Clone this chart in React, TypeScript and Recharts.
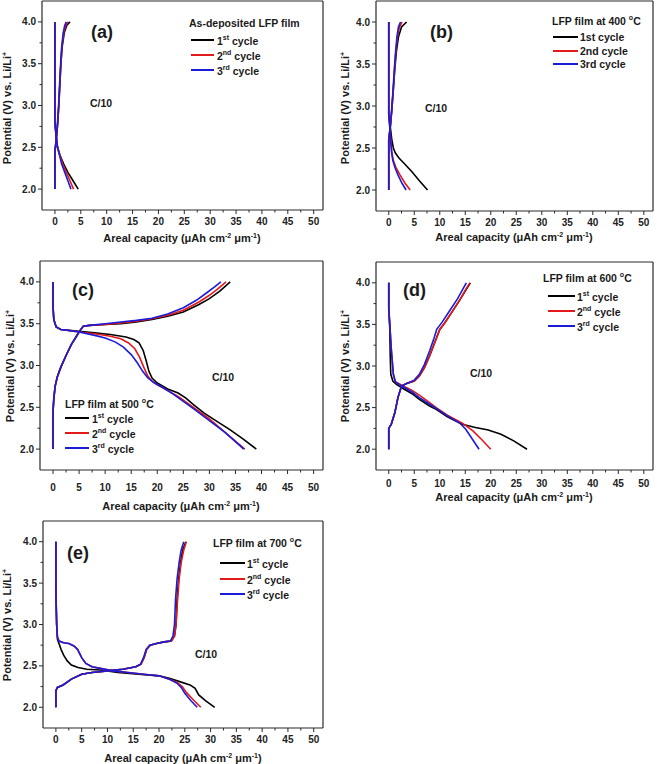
import { Line, LineChart, XAxis, YAxis } from "recharts";

type Pair = [number, number];

// x ticks every 2.5 (labels on multiples of 5), y ticks every 0.25 (labels every 0.5)
const xTicks = [0, 2.5, 5, 7.5, 10, 12.5, 15, 17.5, 20, 22.5, 25, 27.5, 30, 32.5, 35, 37.5, 40, 42.5, 45, 47.5, 50];
const yTicks = [2.0, 2.25, 2.5, 2.75, 3.0, 3.25, 3.5, 3.75, 4.0];
const cycleNames = ["1st", "2nd", "3rd"];
const cycleSups = ["st", "nd", "rd"];

// (a) as-deposited
const aChg1: Pair[] = [[0, 2.0], [0, 2.45], [0.3, 2.62], [0.55, 2.8], [0.75, 3.0], [0.95, 3.25], [1.15, 3.5], [1.4, 3.7], [1.8, 3.87], [2.3, 3.96], [2.9, 4.0]];
const aChg2: Pair[] = [[0, 2.0], [0, 2.45], [0.3, 2.62], [0.55, 2.8], [0.75, 3.0], [0.95, 3.25], [1.15, 3.5], [1.35, 3.7], [1.7, 3.87], [2.1, 3.96], [2.5, 4.0]];
const aChg3: Pair[] = [[0, 2.0], [0, 2.45], [0.28, 2.62], [0.5, 2.8], [0.7, 3.0], [0.9, 3.25], [1.1, 3.5], [1.3, 3.7], [1.6, 3.87], [1.9, 3.96], [2.2, 4.0]];
const aDis1: Pair[] = [[0, 4.0], [0, 2.8], [0.2, 2.65], [0.5, 2.5], [1.0, 2.4], [1.7, 2.3], [2.5, 2.2], [3.5, 2.1], [4.5, 2.0]];
const aDis2: Pair[] = [[0, 4.0], [0, 2.8], [0.2, 2.65], [0.5, 2.5], [1.0, 2.4], [1.5, 2.3], [2.2, 2.2], [2.9, 2.1], [3.6, 2.0]];
const aDis3: Pair[] = [[0, 4.0], [0, 2.8], [0.2, 2.65], [0.5, 2.5], [0.9, 2.4], [1.3, 2.3], [1.9, 2.2], [2.5, 2.1], [3.1, 2.0]];

// (b) 400 C
const bChg1: Pair[] = [[0, 2.0], [0, 2.6], [0.3, 2.75], [0.6, 2.95], [0.9, 3.2], [1.2, 3.45], [1.5, 3.65], [1.9, 3.82], [2.5, 3.94], [3.5, 4.0]];
const bChg2: Pair[] = [[0, 2.0], [0, 2.6], [0.3, 2.75], [0.6, 2.95], [0.9, 3.2], [1.15, 3.45], [1.4, 3.65], [1.7, 3.82], [2.1, 3.94], [2.6, 4.0]];
const bChg3: Pair[] = [[0, 2.0], [0, 2.6], [0.3, 2.75], [0.55, 2.95], [0.85, 3.2], [1.1, 3.45], [1.35, 3.65], [1.6, 3.82], [1.9, 3.94], [2.3, 4.0]];
const bDis1: Pair[] = [[0, 4.0], [0, 2.9], [0.3, 2.75], [0.6, 2.6], [0.9, 2.5], [1.3, 2.44], [2.0, 2.38], [2.8, 2.33], [4.5, 2.22], [6.0, 2.11], [7.6, 2.0]];
const bDis2: Pair[] = [[0, 4.0], [0, 2.9], [0.2, 2.75], [0.4, 2.6], [0.6, 2.45], [0.9, 2.35], [1.4, 2.27], [2.2, 2.18], [3.2, 2.08], [4.2, 2.0]];
const bDis3: Pair[] = [[0, 4.0], [0, 2.9], [0.2, 2.75], [0.35, 2.6], [0.55, 2.45], [0.8, 2.35], [1.2, 2.27], [1.8, 2.18], [2.6, 2.08], [3.4, 2.0]];

// (c) 500 C
const cChg1: Pair[] = [[0, 2.0], [0, 2.45], [0.15, 2.6], [0.4, 2.75], [0.8, 2.86], [1.5, 2.98], [2.5, 3.12], [3.5, 3.25], [4.5, 3.35], [5.2, 3.42], [5.8, 3.47], [7, 3.48], [10, 3.49], [13, 3.5], [16, 3.52], [19, 3.55], [22, 3.59], [25, 3.64], [28, 3.73], [30, 3.8], [32, 3.89], [34, 4.0]];
const cChg2: Pair[] = [[0, 2.0], [0, 2.45], [0.15, 2.6], [0.4, 2.75], [0.8, 2.86], [1.5, 2.98], [2.5, 3.12], [3.5, 3.25], [4.5, 3.35], [5.2, 3.42], [5.8, 3.47], [7, 3.48], [10, 3.49], [13, 3.51], [16, 3.53], [19, 3.56], [22, 3.6], [25, 3.66], [28, 3.76], [30, 3.84], [31.5, 3.91], [33.2, 4.0]];
const cChg3: Pair[] = [[0, 2.0], [0, 2.45], [0.15, 2.6], [0.4, 2.75], [0.8, 2.86], [1.5, 2.98], [2.5, 3.12], [3.5, 3.25], [4.5, 3.35], [5.2, 3.42], [5.8, 3.47], [7, 3.48], [10, 3.5], [13, 3.52], [16, 3.54], [19, 3.565], [22, 3.615], [25, 3.69], [27.5, 3.78], [29.5, 3.87], [31, 3.94], [32.2, 4.0]];
const cDis1: Pair[] = [[0, 4.0], [0, 3.7], [0.15, 3.55], [0.6, 3.46], [1.5, 3.43], [3, 3.42], [5, 3.41], [8, 3.39], [11, 3.37], [14, 3.34], [15.5, 3.31], [16.5, 3.27], [17.3, 3.18], [17.9, 3.05], [18.4, 2.93], [19, 2.85], [20, 2.79], [22, 2.72], [24, 2.67], [25.5, 2.61], [27, 2.53], [29, 2.43], [31, 2.35], [34, 2.23], [36.5, 2.12], [39, 2.0]];
const cDis2: Pair[] = [[0, 4.0], [0, 3.7], [0.15, 3.55], [0.6, 3.46], [1.5, 3.43], [3, 3.42], [5, 3.4], [8, 3.38], [11, 3.35], [13, 3.32], [14.5, 3.27], [15.7, 3.2], [16.6, 3.1], [17.4, 2.98], [18.2, 2.87], [19, 2.81], [20, 2.77], [22, 2.7], [24, 2.63], [26, 2.54], [28, 2.45], [30, 2.36], [33, 2.2], [36.8, 2.0]];
const cDis3: Pair[] = [[0, 4.0], [0, 3.7], [0.15, 3.55], [0.6, 3.46], [1.5, 3.43], [3, 3.42], [5, 3.4], [8, 3.36], [10, 3.33], [12, 3.28], [13.5, 3.22], [15, 3.13], [16.2, 3.03], [17.2, 2.93], [18.2, 2.85], [19.5, 2.79], [21, 2.74], [23, 2.66], [25, 2.57], [27, 2.48], [30, 2.34], [33, 2.2], [36.6, 2.0]];

// (d) 600 C
const dChg1: Pair[] = [[0, 2.0], [0, 2.25], [0.5, 2.3], [1.2, 2.44], [1.8, 2.62], [2.5, 2.76], [3.5, 2.79], [5, 2.82], [6, 2.88], [7, 2.98], [8, 3.12], [9, 3.28], [10, 3.44], [11, 3.52], [12.5, 3.66], [14, 3.8], [15.2, 3.92], [16, 4.0]];
const dChg2: Pair[] = [[0, 2.0], [0, 2.25], [0.5, 2.3], [1.2, 2.44], [1.8, 2.62], [2.5, 2.76], [3.5, 2.79], [5, 2.82], [6, 2.88], [7, 2.98], [8, 3.12], [9, 3.28], [10, 3.44], [11, 3.52], [12.5, 3.66], [14, 3.8], [15.1, 3.92], [15.9, 4.0]];
const dChg3: Pair[] = [[0, 2.0], [0, 2.25], [0.5, 2.3], [1.2, 2.44], [1.8, 2.62], [2.5, 2.76], [3.5, 2.79], [5, 2.83], [6, 2.9], [7, 3.02], [8, 3.18], [8.8, 3.32], [9.4, 3.44], [10.5, 3.53], [12, 3.67], [13.5, 3.81], [14.5, 3.92], [15.2, 4.0]];
const dDis1: Pair[] = [[0, 4.0], [0, 3.7], [0.2, 3.45], [0.3, 3.1], [0.4, 2.9], [0.8, 2.82], [1.5, 2.78], [2.8, 2.73], [4.5, 2.67], [6, 2.6], [8, 2.52], [9.3, 2.48], [11.5, 2.39], [14.4, 2.3], [17, 2.26], [19.5, 2.23], [22, 2.18], [24.5, 2.1], [27.1, 2.0]];
const dDis2: Pair[] = [[0, 4.0], [0, 3.7], [0.2, 3.5], [0.5, 3.2], [0.9, 2.9], [1.3, 2.81], [2.8, 2.76], [4.5, 2.71], [6, 2.65], [8, 2.56], [9.3, 2.5], [11.5, 2.41], [14.5, 2.31], [16.5, 2.22], [18.3, 2.11], [20, 2.0]];
const dDis3: Pair[] = [[0, 4.0], [0, 3.7], [0.2, 3.5], [0.5, 3.2], [0.9, 2.9], [1.3, 2.81], [2.8, 2.75], [4.5, 2.69], [6, 2.62], [8, 2.54], [9.3, 2.49], [11.5, 2.4], [14, 2.31], [15.1, 2.24], [16.4, 2.12], [17.7, 2.0]];

// (e) 700 C
const eChg1: Pair[] = [[0, 2.0], [0, 2.2], [0.3, 2.24], [1.4, 2.27], [3, 2.34], [5, 2.4], [7, 2.42], [10, 2.44], [13, 2.46], [15.5, 2.49], [16.5, 2.52], [17.1, 2.6], [17.6, 2.7], [18.3, 2.75], [19.5, 2.77], [21, 2.79], [22.4, 2.8], [23, 2.86], [23.3, 3.0], [23.5, 3.3], [23.8, 3.55], [24.2, 3.75], [24.6, 3.9], [25.2, 4.0]];
const eChg2: Pair[] = [[0, 2.0], [0, 2.2], [0.3, 2.24], [1.4, 2.27], [3, 2.34], [5, 2.4], [7, 2.42], [10, 2.44], [13, 2.46], [15.5, 2.49], [16.5, 2.52], [17.1, 2.6], [17.6, 2.7], [18.3, 2.75], [19.5, 2.77], [21, 2.79], [22.4, 2.8], [23, 2.86], [23.3, 3.0], [23.6, 3.3], [23.9, 3.55], [24.3, 3.75], [24.8, 3.9], [25.3, 4.0]];
const eChg3: Pair[] = [[0, 2.0], [0, 2.2], [0.3, 2.24], [1.4, 2.27], [3, 2.34], [5, 2.4], [7, 2.42], [10, 2.44], [13, 2.46], [15.5, 2.49], [16.4, 2.52], [17, 2.6], [17.5, 2.7], [18.2, 2.75], [19.5, 2.77], [21, 2.79], [22.2, 2.8], [22.7, 2.86], [23, 3.0], [23.2, 3.3], [23.5, 3.55], [23.9, 3.75], [24.3, 3.9], [24.8, 4.0]];
const eDis1: Pair[] = [[0, 4.0], [0, 3.4], [0.15, 3.0], [0.3, 2.82], [0.6, 2.77], [1, 2.7], [1.5, 2.63], [2.2, 2.56], [3, 2.51], [4.3, 2.48], [6, 2.46], [8.6, 2.45], [12, 2.42], [16, 2.4], [20, 2.38], [22, 2.35], [24, 2.31], [26, 2.27], [27, 2.23], [27.7, 2.15], [29, 2.08], [30.8, 2.0]];
const eDis2: Pair[] = [[0, 4.0], [0, 3.4], [0.15, 3.0], [0.3, 2.85], [0.6, 2.8], [1.5, 2.78], [2.5, 2.77], [3.5, 2.74], [4.2, 2.7], [5, 2.6], [5.8, 2.53], [7, 2.49], [8.6, 2.47], [11, 2.44], [14, 2.42], [17, 2.4], [20, 2.38], [22, 2.34], [23.5, 2.3], [24.5, 2.25], [25.3, 2.18], [26.5, 2.1], [28.1, 2.0]];
const eDis3: Pair[] = [[0, 4.0], [0, 3.4], [0.15, 3.0], [0.3, 2.85], [0.6, 2.8], [1.5, 2.78], [2.5, 2.77], [3.5, 2.74], [4.2, 2.7], [5, 2.6], [5.8, 2.53], [7, 2.49], [8.6, 2.47], [11, 2.44], [14, 2.42], [17, 2.4], [20, 2.38], [22, 2.34], [23.5, 2.29], [24.3, 2.24], [25, 2.17], [26.2, 2.08], [27.4, 2.0]];

const COLORS = ["#000000", "#e3191b", "#1b1bd8"];
const FRAME = "#2a2a2a";
const FONT = "'Liberation Sans', Arial, sans-serif";
const X_DOMAIN: [number, number] = [-2.5, 51.8];
const Y_DOMAIN: [number, number] = [1.75, 4.25];

const toRows = (pts: Pair[]) => pts.map(([q, v]) => ({ q, v }));
const isMajor = (v: number, step: number) => Math.abs(v / step - Math.round(v / step)) < 1e-6;

function BottomTick(props: any) {
  const { x, y, payload, off } = props;
  const v = payload.value;
  const major = isMajor(v, 5);
  return (
    <g>
      <line x1={x} x2={x} y1={y} y2={y + (major ? 4 : 2.5)} stroke={FRAME} strokeWidth={1} />
      {major && (
        <text x={x} y={y + off} textAnchor="middle" dominantBaseline="central" fontSize={10} fontWeight="bold" fontFamily={FONT} fill="#222">
          {v}
        </text>
      )}
    </g>
  );
}

function TopTick(props: any) {
  const { x, y, payload } = props;
  const major = isMajor(payload.value, 5);
  return <line x1={x} x2={x} y1={y} y2={y + (major ? 4 : 2.5)} stroke={FRAME} strokeWidth={1} />;
}

function LeftTick(props: any) {
  const { x, y, payload } = props;
  const v = payload.value;
  const major = isMajor(v, 0.5);
  return (
    <g>
      <line x1={x - (major ? 4 : 2.5)} x2={x} y1={y} y2={y} stroke={FRAME} strokeWidth={1} />
      {major && (
        <text x={x - 6} y={y} textAnchor="end" dominantBaseline="central" fontSize={10} fontWeight="bold" fontFamily={FONT} fill="#222">
          {v.toFixed(1)}
        </text>
      )}
    </g>
  );
}

function RightTick(props: any) {
  const { x, y, payload } = props;
  const major = isMajor(payload.value, 0.5);
  return <line x1={x - (major ? 4 : 2.5)} x2={x} y1={y} y2={y} stroke={FRAME} strokeWidth={1} />;
}

type Box = { x: number; y: number; w: number; h: number };

// outer margins around each plot box; axes take 1px each so the box stays exact
const ML = 44;
const MT = 4;
const MR = 4;
const MB = 44;

function Panel({ box, chg, dis, off }: { box: Box; chg: Pair[][]; dis: Pair[][]; off: number }) {
  const axisLine = { stroke: FRAME, strokeWidth: 1.2 };
  return (
    <div style={{ position: "absolute", left: box.x - ML, top: box.y - MT }}>
      <LineChart width={box.w + ML + MR} height={box.h + MT + MB} margin={{ top: MT - 1, right: MR - 1, bottom: MB - 1, left: ML - 1 }}>
        <XAxis xAxisId="b" type="number" dataKey="q" domain={X_DOMAIN} ticks={xTicks} interval={0} height={1} tickSize={0} tickMargin={0} tickLine={false} axisLine={axisLine} tick={(p: any) => <BottomTick {...p} off={off} />} />
        <XAxis xAxisId="t" orientation="top" type="number" dataKey="q" domain={X_DOMAIN} ticks={xTicks} interval={0} height={1} tickSize={0} tickMargin={0} tickLine={false} axisLine={axisLine} tick={(p: any) => <TopTick {...p} />} />
        <YAxis yAxisId="l" type="number" domain={Y_DOMAIN} ticks={yTicks} interval={0} width={1} tickSize={0} tickMargin={0} tickLine={false} axisLine={axisLine} tick={(p: any) => <LeftTick {...p} />} />
        <YAxis yAxisId="r" orientation="right" type="number" domain={Y_DOMAIN} ticks={yTicks} interval={0} width={1} tickSize={0} tickMargin={0} tickLine={false} axisLine={axisLine} tick={(p: any) => <RightTick {...p} />} />
        {[0, 1, 2].flatMap((i) => [
          <Line key={`c${i}`} xAxisId="b" yAxisId="l" data={toRows(chg[i])} dataKey="v" type="linear" stroke={COLORS[i]} strokeWidth={1.6} dot={false} isAnimationActive={false} />,
          <Line key={`d${i}`} xAxisId="b" yAxisId="l" data={toRows(dis[i])} dataKey="v" type="linear" stroke={COLORS[i]} strokeWidth={1.6} dot={false} isAnimationActive={false} />,
        ])}
      </LineChart>
    </div>
  );
}

const textBase: React.CSSProperties = {
  position: "absolute",
  fontFamily: FONT,
  fontWeight: "bold",
  color: "#1a1a1a",
  whiteSpace: "nowrap",
  lineHeight: 1,
  transform: "translateY(-50%)",
};

function Txt({ x, y, size, children }: { x: number; y: number; size: number; children: React.ReactNode }) {
  return <div style={{ ...textBase, left: x, top: y, fontSize: size }}>{children}</div>;
}

function XTitle({ cx, cy }: { cx: number; cy: number }) {
  return (
    <div style={{ ...textBase, left: cx, top: cy, fontSize: 11, transform: "translate(-50%, -50%)" }}>
      Areal capacity (μAh cm<sup style={{ fontSize: 7 }}>-2</sup> μm<sup style={{ fontSize: 7 }}>-1</sup>)
    </div>
  );
}

function YTitle({ cx, cy }: { cx: number; cy: number }) {
  return (
    <div style={{ ...textBase, left: cx, top: cy, fontSize: 11, transform: "translate(-50%, -50%) rotate(-90deg)" }}>
      Potential (V) vs. Li/Li<sup style={{ fontSize: 7 }}>+</sup>
    </div>
  );
}

function Legend({ title, x, titleY, lineX, lineW, textX, rows, sup }: { title: React.ReactNode; x: number; titleY: number; lineX: number; lineW: number; textX: number; rows: number[]; sup: boolean }) {
  return (
    <>
      <Txt x={x} y={titleY} size={10.5}>{title}</Txt>
      {rows.map((ry, i) => (
        <div key={i}>
          <div style={{ position: "absolute", left: lineX, top: ry - 1, width: lineW, height: 2, background: COLORS[i] }} />
          <Txt x={textX} y={ry} size={10.5}>
            {sup ? (
              <>
                {i + 1}
                <sup style={{ fontSize: 7 }}>{cycleSups[i]}</sup> cycle
              </>
            ) : (
              `${cycleNames[i]} cycle`
            )}
          </Txt>
        </div>
      ))}
    </>
  );
}

const boxA: Box = { x: 42, y: 1, w: 281, h: 209 };
const boxB: Box = { x: 376, y: 1, w: 277, h: 210 };
const boxC: Box = { x: 40, y: 261, w: 283, h: 209 };
const boxD: Box = { x: 376, y: 262, w: 277, h: 208 };
const boxE: Box = { x: 43, y: 521, w: 280, h: 207 };

export default function App() {
  return (
    <div style={{ position: "absolute", left: 0, top: 0, width: 658, height: 764, background: "#fff", overflow: "hidden" }}>
      <Panel box={boxA} chg={[aChg1, aChg2, aChg3]} dis={[aDis1, aDis2, aDis3]} off={11} />
      <Panel box={boxB} chg={[bChg1, bChg2, bChg3]} dis={[bDis1, bDis2, bDis3]} off={11} />
      <Panel box={boxC} chg={[cChg1, cChg2, cChg3]} dis={[cDis1, cDis2, cDis3]} off={17} />
      <Panel box={boxD} chg={[dChg1, dChg2, dChg3]} dis={[dDis1, dDis2, dDis3]} off={13} />
      <Panel box={boxE} chg={[eChg1, eChg2, eChg3]} dis={[eDis1, eDis2, eDis3]} off={11} />

      <XTitle cx={182} cy={238} />
      <XTitle cx={514} cy={237} />
      <XTitle cx={181} cy={506} />
      <XTitle cx={514} cy={497} />
      <XTitle cx={183} cy={758} />

      <YTitle cx={7} cy={108} />
      <YTitle cx={345} cy={108} />
      <YTitle cx={10} cy={366} />
      <YTitle cx={345} cy={366} />
      <YTitle cx={7} cy={625} />

      <Txt x={91} y={32} size={18}>(a)</Txt>
      <Txt x={430} y={32} size={18}>(b)</Txt>
      <Txt x={72} y={290} size={18}>(c)</Txt>
      <Txt x={403} y={290} size={18}>(d)</Txt>
      <Txt x={67} y={553} size={18}>(e)</Txt>

      <Txt x={90} y={103} size={10.5}>C/10</Txt>
      <Txt x={425} y={108} size={10.5}>C/10</Txt>
      <Txt x={212} y={377} size={10.5}>C/10</Txt>
      <Txt x={470} y={373} size={10.5}>C/10</Txt>
      <Txt x={195} y={654} size={10.5}>C/10</Txt>

      <Legend title="As-deposited LFP film" x={189} titleY={23} lineX={191} lineW={23} textX={217} rows={[40, 55, 70]} sup />
      <Legend title={<>LFP film at 400 <sup style={{ fontSize: 7 }}>o</sup>C</>} x={552} titleY={20} lineX={553} lineW={25} textX={580} rows={[37, 51, 64]} sup={false} />
      <Legend title={<>LFP film at 500 <sup style={{ fontSize: 7 }}>o</sup>C</>} x={65} titleY={403} lineX={65} lineW={24} textX={92} rows={[418, 433, 448]} sup />
      <Legend title={<>LFP film at 600 <sup style={{ fontSize: 7 }}>o</sup>C</>} x={543} titleY={277} lineX={548} lineW={27} textX={577} rows={[296, 311, 326]} sup />
      <Legend title={<>LFP film at 700 <sup style={{ fontSize: 7 }}>o</sup>C</>} x={213} titleY={542} lineX={220} lineW={25} textX={247} rows={[563, 579, 594]} sup />
    </div>
  );
}
